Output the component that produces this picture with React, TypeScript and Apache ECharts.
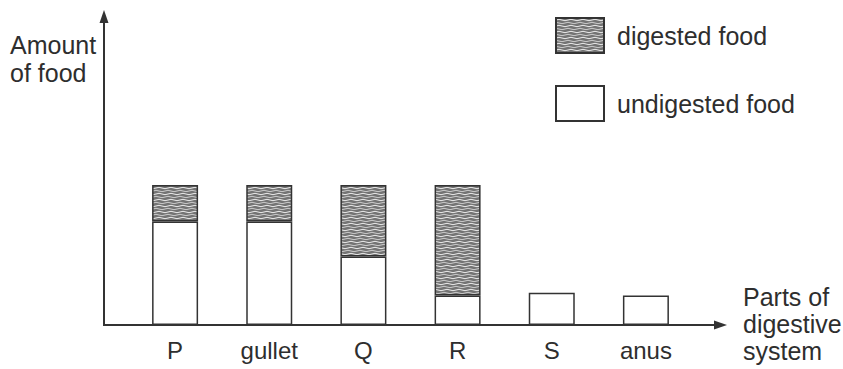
import React, { useEffect, useRef } from "react";
import * as echarts from "echarts";

const categories = ["P", "gullet", "Q", "R", "S", "anus"];
const undigested = [7.4, 7.4, 4.9, 2.1, 2.3, 2.1];
const digested: (number | null)[] = [2.6, 2.6, 5.1, 7.9, null, null];
const seriesNames = ["digested food", "undigested food"];
const yAxisTitle = "Amount\nof food";
const xAxisTitle = "Parts of\ndigestive\nsystem";

const tileSvg =
  '<svg xmlns="http://www.w3.org/2000/svg" width="12" height="6">' +
  '<rect width="12" height="6" fill="#747474"/>' +
  '<path d="M0 2 Q3 0.6 6 2 T12 2" stroke="#ececec" stroke-width="1" fill="none"/>' +
  '<path d="M-3 5 Q0 3.6 3 5 T9 5 T15 5" stroke="#d6d6d6" stroke-width="0.9" fill="none"/>' +
  "</svg>";
const tileUrl = "data:image/svg+xml;charset=utf-8," + encodeURIComponent(tileSvg);

export default function App() {
  const ref = useRef<HTMLDivElement>(null);
  useEffect(() => {
    if (!ref.current) return;
    const chart = echarts.init(ref.current, undefined, { renderer: "svg" });
    const ink = "#2e2e2e";
    const font = "'Liberation Sans', Arial, sans-serif";
    chart.setOption({
      animation: false,
      backgroundColor: "#ffffff",
      textStyle: { fontFamily: font },
      grid: { left: 128, right: 150, top: 45, bottom: 44 },
      legend: {
        orient: "vertical",
        left: 555,
        top: 17,
        padding: 0,
        icon: "rect",
        itemWidth: 48,
        itemHeight: 35,
        itemGap: 31,
        data: seriesNames,
        textStyle: { fontSize: 25, color: ink, fontFamily: font, padding: [0, 0, 0, 8] },
      },
      xAxis: {
        type: "category",
        data: categories,
        axisLine: { show: false },
        axisTick: { show: false },
        axisLabel: { fontSize: 24, color: ink, margin: 13, fontFamily: font },
      },
      yAxis: {
        type: "value",
        min: 0,
        max: 20,
        show: false,
        splitLine: { show: false },
      },
      series: [
        {
          name: "undigested food",
          type: "bar",
          stack: "food",
          barWidth: 46,
          data: undigested,
          itemStyle: { color: "#ffffff", borderColor: "#333", borderWidth: 1.5 },
        },
        {
          name: "digested food",
          type: "bar",
          stack: "food",
          barWidth: 46,
          data: digested,
          itemStyle: {
            color: { image: tileUrl, repeat: "repeat" },
            borderColor: "#333",
            borderWidth: 1.5,
          },
        },
      ],
      graphic: [
        { type: "line", shape: { x1: 104, y1: 326, x2: 104, y2: 18 }, style: { stroke: "#333", lineWidth: 2 } },
        { type: "polygon", shape: { points: [[104, 10], [99.5, 23], [108.5, 23]] }, style: { fill: "#333" } },
        { type: "line", shape: { x1: 103, y1: 325, x2: 716, y2: 325 }, style: { stroke: "#333", lineWidth: 2 } },
        { type: "polygon", shape: { points: [[727, 325], [714, 320.5], [714, 329.5]] }, style: { fill: "#333" } },
        {
          type: "text",
          x: 10,
          y: 31,
          style: { text: yAxisTitle, fontSize: 25, lineHeight: 28, fill: ink, fontFamily: font },
        },
        {
          type: "text",
          x: 743,
          y: 283,
          style: { text: xAxisTitle, fontSize: 25, lineHeight: 27, fill: ink, fontFamily: font },
        },
      ],
    });
    return () => chart.dispose();
  }, []);
  return (
    <div
      ref={ref}
      style={{ position: "absolute", left: 0, top: 0, width: 843, height: 369 }}
    />
  );
}
